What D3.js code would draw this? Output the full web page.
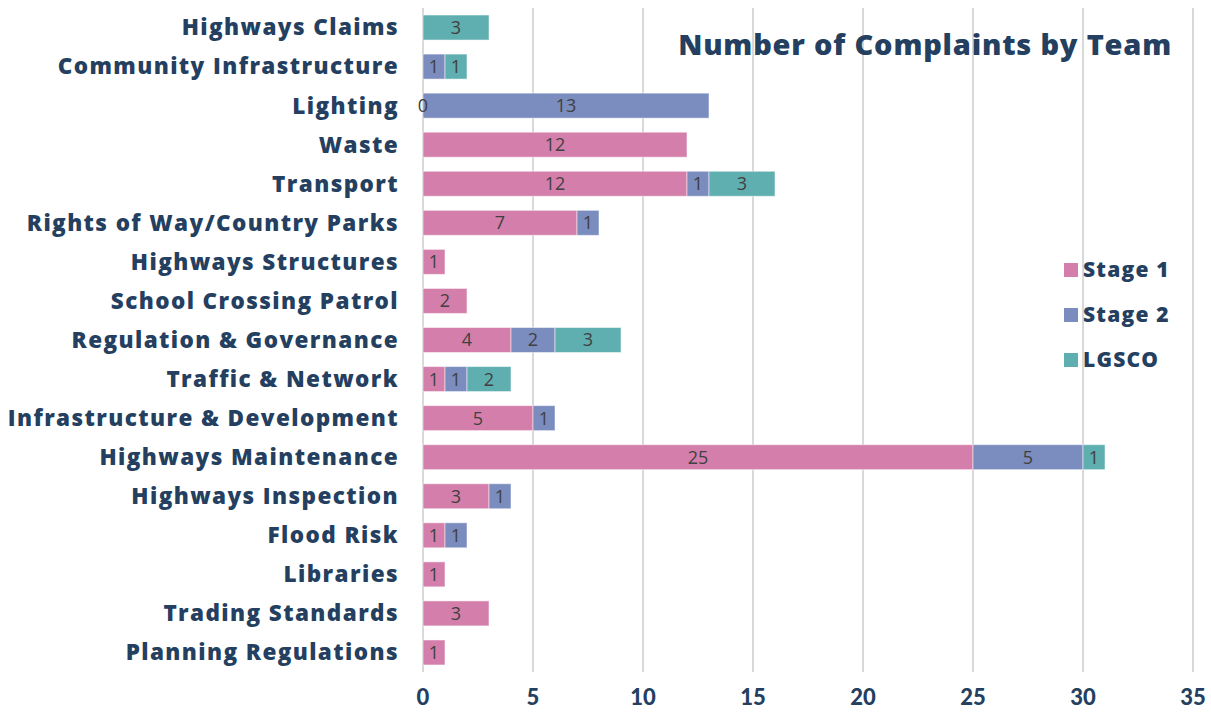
<!DOCTYPE html>
<html>
<head>
<meta charset="utf-8">
<script src="https://cdn.jsdelivr.net/npm/d3@7"></script>
<style>
  body { margin: 0; background: #fff; }
  .cat { font-family: "Open Sans", sans-serif; font-weight: 800; fill: #243F60; }
  .tick { font-family: Lato, sans-serif; font-weight: 900; fill: #243F60; }
  .val { font-family: "Open Sans", sans-serif; fill: #404040; }
</style>
</head>
<body>
<svg id="chart" width="1211" height="716"></svg>
<script>
// categories top to bottom
var teams = ["Highways Claims", "Community Infrastructure", "Lighting", "Waste", "Transport",
  "Rights of Way/Country Parks", "Highways Structures", "School Crossing Patrol",
  "Regulation & Governance", "Traffic & Network", "Infrastructure & Development",
  "Highways Maintenance", "Highways Inspection", "Flood Risk", "Libraries",
  "Trading Standards", "Planning Regulations"];

// null = no label shown
var stage1 = [null, null, 0, 12, 12, 7, 1, 2, 4, 1, 5, 25, 3, 1, 1, 3, 1];
var stage2 = [null, 1, 13, null, 1, 1, null, null, 2, 1, 1, 5, 1, 1, null, null, null];
var lgsco  = [3, 1, null, null, 3, null, null, null, 3, 2, null, 1, null, null, null, null, null];

var seriesNames = ["Stage 1", "Stage 2", "LGSCO"];
var colours = ["#D47FAB", "#7B8CBE", "#5FAFB0"];
var xTicks = [0, 5, 10, 15, 20, 25, 30, 35];

var svg = d3.select("#chart");

var x = d3.scaleLinear().domain([0, 35]).range([423, 1193]);
var y = d3.scaleBand().domain(teams).range([8, 672]).paddingInner(0.36).paddingOuter(0.18);

// gridlines
svg.append("g").selectAll("line")
  .data(xTicks)
  .enter().append("line")
  .attr("x1", d => x(d)).attr("x2", d => x(d))
  .attr("y1", 8).attr("y2", 672)
  .attr("stroke", "#D9D9D9").attr("stroke-width", 2);

// stack the three series
var rows = teams.map(function (t, i) {
  return { team: t, vals: [stage1[i], stage2[i], lgsco[i]] };
});

var segs = [];
rows.forEach(function (r) {
  var acc = 0;
  r.vals.forEach(function (v, k) {
    if (v === null) return;
    segs.push({ team: r.team, k: k, x0: acc, x1: acc + v, v: v });
    acc += v;
  });
});

svg.append("g").selectAll("rect")
  .data(segs.filter(d => d.v > 0))
  .enter().append("rect")
  .attr("x", d => x(d.x0))
  .attr("y", d => y(d.team))
  .attr("width", d => x(d.x1) - x(d.x0))
  .attr("height", y.bandwidth())
  .attr("fill", d => colours[d.k])
  .attr("stroke", "rgba(255,255,255,0.5)")
  .attr("stroke-width", 1);

svg.append("g").selectAll("text")
  .data(segs)
  .enter().append("text")
  .attr("class", "val")
  .attr("x", d => (x(d.x0) + x(d.x1)) / 2)
  .attr("y", d => y(d.team) + y.bandwidth() / 2)
  .attr("dy", "0.36em")
  .attr("text-anchor", "middle")
  .attr("font-size", 18)
  .text(d => d.v);

// category labels
svg.append("g").selectAll("text")
  .data(teams)
  .enter().append("text")
  .attr("class", "cat")
  .attr("x", 399)
  .attr("y", d => y(d) + y.bandwidth() / 2)
  .attr("dy", "0.35em")
  .attr("text-anchor", "end")
  .attr("font-size", 22.5)
  .attr("letter-spacing", 1.4)
  .text(d => d);

// x tick labels
svg.append("g").selectAll("text")
  .data(xTicks)
  .enter().append("text")
  .attr("class", "tick")
  .attr("x", d => x(d))
  .attr("y", 697)
  .attr("dy", "0.35em")
  .attr("text-anchor", "middle")
  .attr("font-size", 22)
  .text(d => d);

// title
svg.append("text")
  .attr("class", "cat")
  .attr("x", 1172)
  .attr("y", 45)
  .attr("dy", "0.35em")
  .attr("text-anchor", "end")
  .attr("font-size", 29)
  .attr("letter-spacing", 0.8)
  .attr("fill", "#2B4A70")
  .text("Number of Complaints by Team");

// legend
var leg = svg.append("g").selectAll("g")
  .data(seriesNames)
  .enter().append("g")
  .attr("transform", (d, i) => "translate(1064," + (270 + i * 45) + ")");
leg.append("rect")
  .attr("x", 0).attr("y", -7).attr("width", 14).attr("height", 14)
  .attr("fill", (d, i) => colours[i]);
leg.append("text")
  .attr("class", "cat")
  .attr("x", 19)
  .attr("dy", "0.35em")
  .attr("font-size", 21)
  .attr("letter-spacing", 1.2)
  .text(d => d);
</script>
</body>
</html>
